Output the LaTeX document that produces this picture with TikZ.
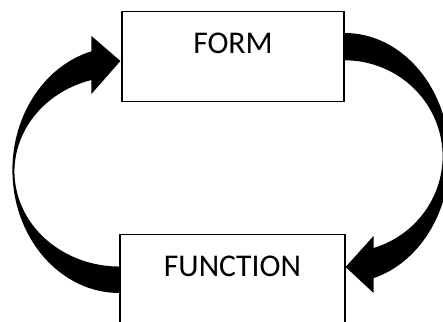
\documentclass[tikz,border=0pt]{standalone}
\usepackage{fontspec}
\setmainfont{Carlito}
\usetikzlibrary{calc,positioning}
\definecolor{loopink}{HTML}{000000}

\begin{document}
\begin{tikzpicture}[x=0.025cm, y=0.025cm,
    font=\fontsize{22.5}{27}\selectfont,
    stagebox/.style={draw=loopink, line width=0.8pt, fill=white, inner ysep=0pt,
      text height=1.05cm, text depth=1.2cm, anchor=north},
    bigarrow/.style={fill=loopink, draw=none}]
  \useasboundingbox (0,0) rectangle (443,322);
  \node[stagebox, minimum width=5.55cm] (formbox) at (233,311) {FORM};
  \node[stagebox, minimum width=5.625cm] (funcbox) at (232.5,88) {FUNCTION};
  % form -> function, round the right side
  \fill[bigarrow] ($(formbox.north east)+(0,-22)$)
    arc[start angle=90, end angle=-74, x radius=105, y radius=125]
    -- ($(funcbox.north east)+(28,-59)$)
    -- ($(funcbox.north east)+(0,-33)$)
    -- ($(funcbox.north east)+(28,-2)$)
    -- ($(funcbox.north east)+(28,-14)$)
    arc[start angle=-72.8, end angle=90, x radius=98, y radius=96]
    -- cycle;
  % function -> form, round the left side
  \fill[bigarrow] ($(funcbox.north west)+(0,-59)$)
    arc[start angle=270, end angle=105.2, x radius=107, y radius=123]
    -- ($(formbox.north west)+(-30,-25)$)
    -- ($(formbox.north west)+(-1,-50)$)
    -- ($(formbox.north west)+(-30,-83)$)
    -- ($(formbox.north west)+(-30,-69)$)
    arc[start angle=105.5, end angle=270, x radius=105, y radius=95]
    -- cycle;
\end{tikzpicture}
\end{document}
